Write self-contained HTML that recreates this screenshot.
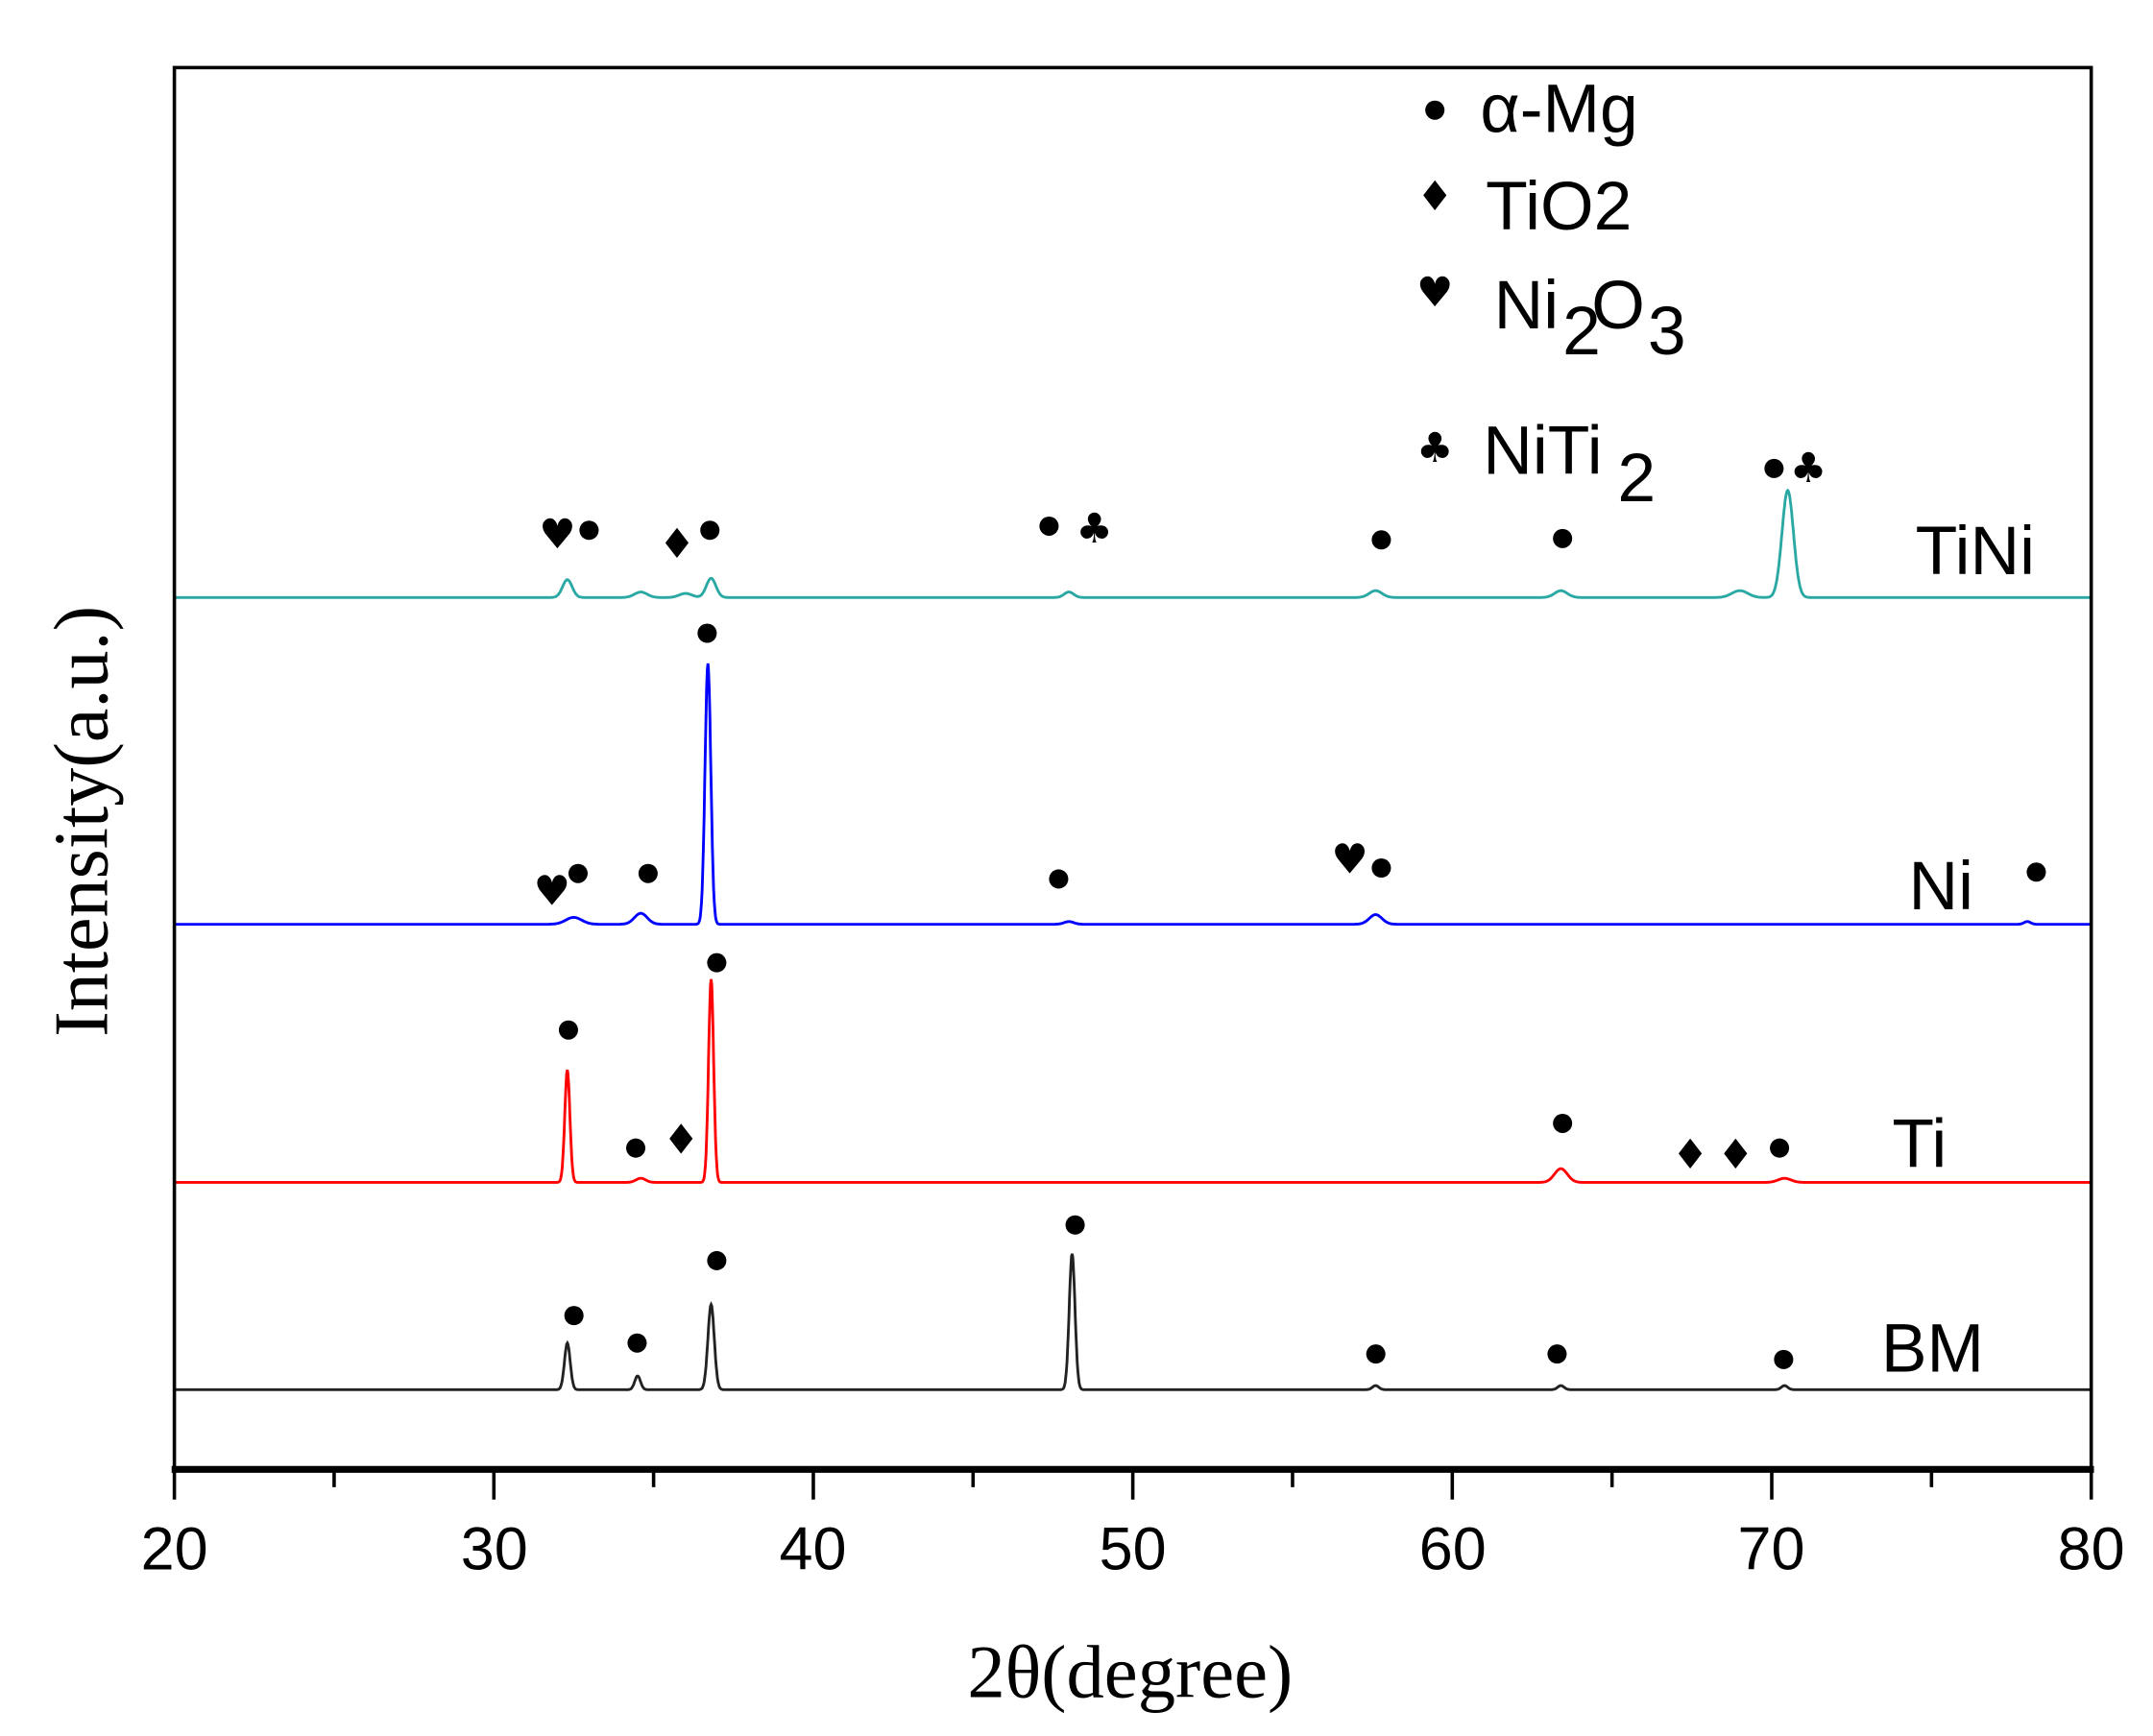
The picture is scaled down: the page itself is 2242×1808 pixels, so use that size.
<!DOCTYPE html>
<html><head><meta charset="utf-8"><style>
html,body{margin:0;padding:0;background:#fff;}
svg{display:block;}
</style></head><body>
<svg id="s" width="2242" height="1808" viewBox="0 0 1568 1264" xmlns="http://www.w3.org/2000/svg">
<rect x="0" y="0" width="1568" height="1264" fill="#fff"/>
<g id="curves" fill="none" stroke-width="2"></g>
<rect x="127" y="49" width="1396" height="1020" fill="none" stroke="#000" stroke-width="2.5"/>
<line x1="125" y1="1070" x2="1525" y2="1070" stroke="#000" stroke-width="5"/>
<g id="ticks" stroke="#000" stroke-width="2.5"></g>
<g font-family="Liberation Sans, sans-serif" font-size="44" text-anchor="middle" fill="#000">
<text x="127" y="1143">20</text><text x="360" y="1143">30</text><text x="592" y="1143">40</text>
<text x="825" y="1143">50</text><text x="1058" y="1143">60</text><text x="1290" y="1143">70</text><text x="1523" y="1143">80</text>
</g>
<text x="823" y="1236" font-family="Liberation Serif, serif" font-size="55" text-anchor="middle">2θ(degree)</text>
<text transform="translate(78,598) rotate(-90)" font-family="Liberation Serif, serif" font-size="56" text-anchor="middle">Intensity(a.u.)</text>
<g font-family="Liberation Sans, sans-serif" font-size="50" fill="#000">
<text x="1395" y="418">TiNi</text>
<text x="1390" y="662">Ni</text>
<text x="1378" y="850">Ti</text>
<text x="1370" y="999">BM</text>
<text x="1078" y="96">α-Mg</text>
<text x="1082" y="167">TiO2</text>
<text x="1088" y="239">Ni</text><text x="1138" y="258">2</text><text x="1159" y="239">O</text><text x="1200" y="258">3</text>
<text x="1080" y="345">NiTi</text><text x="1178" y="365">2</text>
</g>
<g id="marks" fill="#000" font-family="DejaVu Sans, sans-serif" font-size="30" text-anchor="middle"></g>
</svg>
<script>
var NS="http://www.w3.org/2000/svg";
function X(d){return 127+(d-20)*23.267;}
function el(t,a,p){var e=document.createElementNS(NS,t);for(var k in a)e.setAttribute(k,a[k]);p.appendChild(e);return e;}
var ticks=document.getElementById('ticks');
for(var d=20;d<=80;d+=5){var maj=d%10==0;el('line',{x1:X(d),y1:1070,x2:X(d),y2:maj?1092:1083},ticks);}
var series=[
 {c:"#2aa8a4",b:435,p:[[32.3,13,0.15],[34.6,4,0.2],[36,3,0.2],[36.8,14,0.15],[48,4,0.15],[57.6,5,0.2],[63.4,5,0.2],[69,5,0.25],[70.5,78,0.18]]},
 {c:"#0000ff",b:673,p:[[32.5,5,0.25],[34.6,8,0.2],[36.7,190,0.09],[48,2,0.15],[57.6,7,0.2],[78,2,0.1]]},
 {c:"#ff0000",b:861,p:[[32.3,82,0.08],[34.6,3,0.15],[36.8,148,0.08],[63.4,10,0.2],[70.4,3,0.2]]},
 {c:"#222",b:1012,p:[[32.3,34,0.09],[34.5,10,0.09],[36.8,62,0.1],[48.1,99,0.09],[57.6,3,0.1],[63.4,3,0.1],[70.4,3,0.1]]}
];
var cg=document.getElementById('curves');
series.forEach(function(s){
 var pts=[];
 for(var d=20;d<=80;d+=0.02){var y=s.b;s.p.forEach(function(p){y-=p[1]*Math.exp(-Math.pow(d-p[0],2)/(2*p[2]*p[2]));});pts.push(X(d).toFixed(1)+","+y.toFixed(1));}
 el('polyline',{points:pts.join(" "),stroke:s.c,"stroke-width":2},cg);
});
var mg=document.getElementById('marks');
function dot(x,y){el('circle',{cx:x,cy:y,r:7},mg);}
function g(ch,x,y){var t=el('text',{x:x,y:y+11},mg);t.textContent=ch;}
[[429,386],[517,386],[764,383],[1006,393],[1138,392],[1292,341],[421,636],[472,636],[515,461],[771,640],[1006,632],[1483,635],[414,750],[463,836],[522,701],[1138,818],[1296,836],[418,958],[464,978],[522,918],[783,892],[1002,986],[1134,986],[1299,990],[1045,80]].forEach(function(p){dot(p[0],p[1]);});
g('♥',406,388);g('♦',493,395);g('♣',797,384);g('♣',1317,340);
g('♥',402,648);g('♥',983,625);
g('♦',496,829);g('♦',1231,840);g('♦',1264,840);
g('♦',1045,142);g('♥',1045,212);g('♣',1045,325);
</script>
</body></html>
